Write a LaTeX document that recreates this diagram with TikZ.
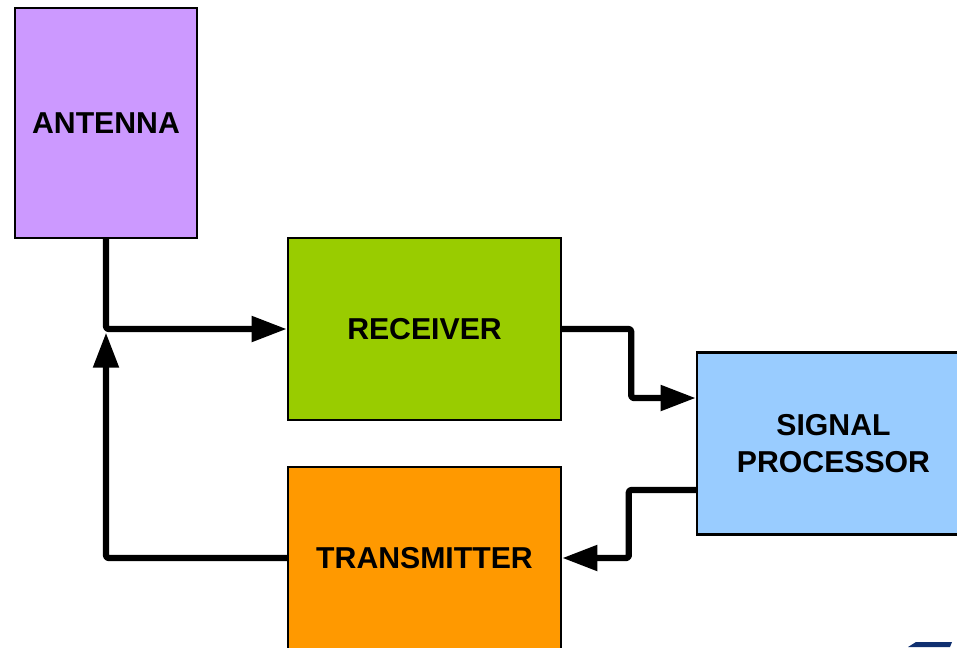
\documentclass[tikz,border=0pt]{standalone}
\usepackage{fontspec}
\setmainfont{Liberation Sans}
\usetikzlibrary{arrows.meta, positioning, calc}
\definecolor{antennapurple}{RGB}{204,153,255}
\definecolor{receivergreen}{RGB}{153,204,0}
\definecolor{procblue}{RGB}{153,204,255}
\definecolor{transorange}{RGB}{255,153,0}
\definecolor{logoblue}{RGB}{16,48,112}

\begin{document}
\begin{tikzpicture}[x=0.02cm, y=-0.02cm,
    block/.style={draw=black, line width=1.4pt, align=center,
        font=\fontsize{17.2}{20.6}\selectfont\bfseries,
        minimum width=5.46cm, minimum height=3.64cm, inner sep=0pt},
    link/.style={line width=3.6pt, line join=round, rounded corners=1.5pt},
    tip/.style={-{Triangle[length=20pt, width=14pt]}}]
    \useasboundingbox (0,0) rectangle (957,647);
    \clip (0,0) rectangle (957,647);

    % Blocks
    \node[block, fill=antennapurple, minimum width=3.64cm, minimum height=4.6cm] (ant) at (106,123) {ANTENNA};
    \node[block, fill=receivergreen] (rx) at (424.5,329) {RECEIVER};
    \node[block, fill=procblue] (sp) at (833.5,443.5) {SIGNAL\\PROCESSOR};
    \node[block, fill=transorange] (tx) at (424.5,558) {TRANSMITTER};

    % Junction below the antenna
    \coordinate (junc) at (ant.south |- rx.west);

    % Connectors
    \draw[link, tip] (ant.south) -- (junc) -- (rx.west);
    \draw[link, tip] (tx.west) -| ([yshift=-2pt]junc);
    \draw[link, tip] (rx.east) -- ++(1.38cm,0) |- ([yshift=0.91cm]sp.west);
    \draw[link, tip] ([yshift=-0.93cm]sp.west) -- ++(-1.34cm,0) |- (tx.east);

    % Logo fragment, bottom right
    \fill[logoblue] (908,647) -- (916,642) -- (952,642) -- (950,647) -- cycle;
\end{tikzpicture}
\end{document}
